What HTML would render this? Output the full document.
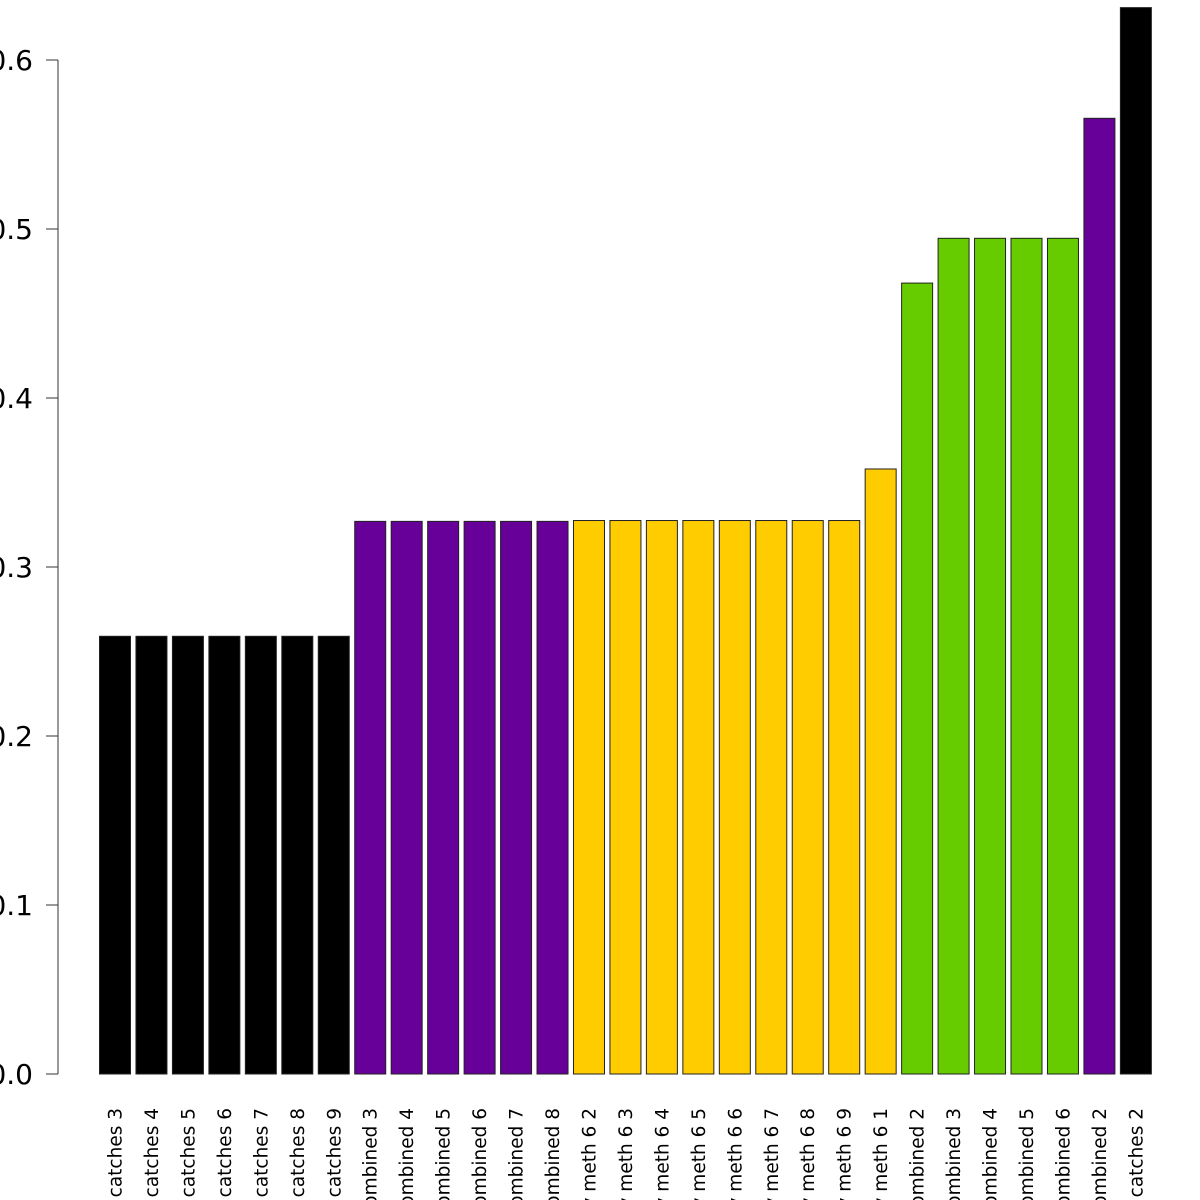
<!DOCTYPE html>
<html><head><meta charset="utf-8"><style>html,body{margin:0;padding:0;background:#fff}svg{display:block}</style></head>
<body>
<svg id="chart" width="1200" height="1200" xmlns="http://www.w3.org/2000/svg" font-family="DejaVu Sans, Liberation Sans, sans-serif"></svg>
<script>
const categories = ["daily catches 3","daily catches 4","daily catches 5","daily catches 6","daily catches 7","daily catches 8","daily catches 9","combined 3","combined 4","combined 5","combined 6","combined 7","combined 8","by meth 6 2","by meth 6 3","by meth 6 4","by meth 6 5","by meth 6 6","by meth 6 7","by meth 6 8","by meth 6 9","by meth 6 1","all combined 2","all combined 3","all combined 4","all combined 5","all combined 6","combined 2","daily catches 2"];
const values = [0.259,0.259,0.259,0.259,0.259,0.259,0.259,0.327,0.327,0.327,0.327,0.327,0.327,0.3275,0.3275,0.3275,0.3275,0.3275,0.3275,0.3275,0.3275,0.358,0.468,0.4945,0.4945,0.4945,0.4945,0.5655,0.631];
const colors = ["#000000","#000000","#000000","#000000","#000000","#000000","#000000","#660099","#660099","#660099","#660099","#660099","#660099","#FFCC00","#FFCC00","#FFCC00","#FFCC00","#FFCC00","#FFCC00","#FFCC00","#FFCC00","#FFCC00","#66CC00","#66CC00","#66CC00","#66CC00","#66CC00","#660099","#000000"];
const yTicks = [0,0.1,0.2,0.3,0.4,0.5,0.6];
const yTickLabels = ["0.0","0.1","0.2","0.3","0.4","0.5","0.6"];

const svg = document.getElementById('chart');
const NS = "http://www.w3.org/2000/svg";
const y = v => 1074 - v * 1690;
const x = i => 99 + i * 36.46;
const bw = 31;
function mk(tag, attrs){const e=document.createElementNS(NS,tag);for(const k in attrs)e.setAttribute(k,attrs[k]);svg.appendChild(e);return e;}

const axis = mk('line',{x1:58,x2:58,y1:y(0),y2:y(0.6),stroke:'#333','stroke-width':1});


yTicks.forEach((t,i)=>{
  const tk = mk('line',{x1:46,x2:58,y1:y(t),y2:y(t),stroke:'#333','stroke-width':1});
  
  
  const lb = mk('text',{x:33,y:y(t)+10,'text-anchor':'end','font-size':28,fill:'#000'});
  lb.textContent = yTickLabels[i];
  
  
});
values.forEach((v,i)=>{
  const r = mk('rect',{x:x(i)+0.5,y:y(v),width:bw,height:y(0)-y(v),fill:colors[i],stroke:'#222','stroke-width':1});
  
  
  const cx = x(i)+bw/2+7;
  const t = mk('text',{x:cx,y:1108,'text-anchor':'end','font-size':18.5,fill:'#000',transform:`rotate(-90 ${cx} 1108)`});
  t.textContent = categories[i];
  
  
});
</script>
</body></html>
